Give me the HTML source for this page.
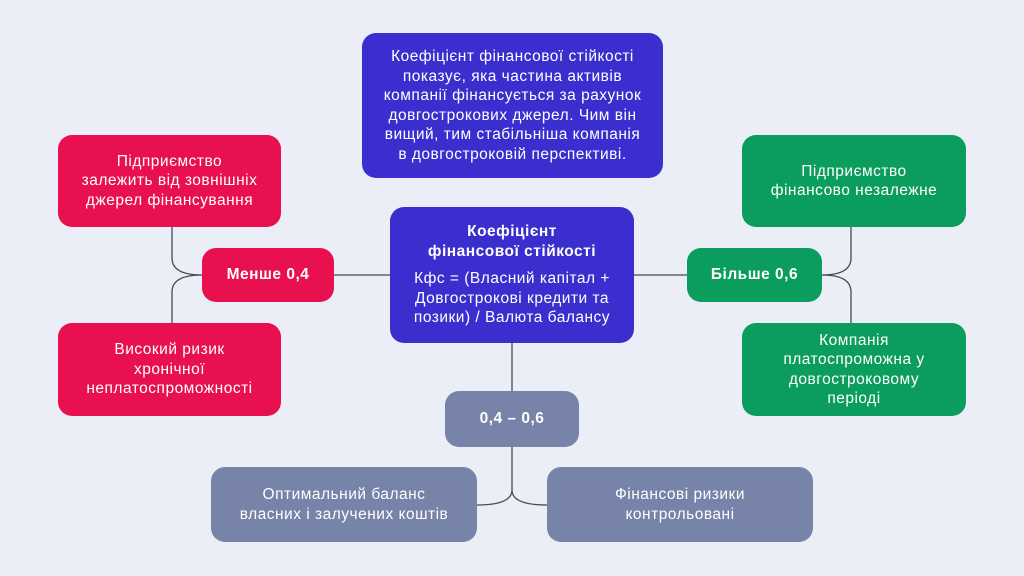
<!DOCTYPE html>
<html><head><meta charset="utf-8"><style>
body{margin:0;width:1024px;height:576px;background:#eceef7;position:relative;overflow:hidden;font-family:"Liberation Sans",sans-serif}
.b{position:absolute;border-radius:14px;color:#fff;display:flex;align-items:center;justify-content:center;text-align:center;font-size:15.5px;line-height:19.5px;letter-spacing:0.5px;box-sizing:border-box;padding:0 4px;white-space:nowrap}
.r{background:#e8104f}.g{background:#0a9d5d}.s{background:#7783a8}.p{background:#3a2fce}
.bold{font-weight:bold}
</style></head><body>
<svg width="1024" height="576" style="position:absolute;left:0;top:0" fill="none" stroke="#444a55" stroke-width="1.3">
<path d="M334 275H390"/><path d="M634 275H687"/><path d="M512 343V391"/>
<path d="M172 227V258Q172 275 202 275M172 323V292Q172 275 202 275"/>
<path d="M851 227V258Q851 275 822 275M851 323V292Q851 275 822 275"/>
<path d="M512 447V490Q512 505 477 505M512 490Q512 505 547 505"/>
</svg>
<div class="b p" style="left:362px;top:33px;width:301px;height:145px">Коефіцієнт фінансової стійкості<br>показує, яка частина активів<br>компанії фінансується за рахунок<br>довгострокових джерел. Чим він<br>вищий, тим стабільніша компанія<br>в довгостроковій перспективі.</div>
<div class="b p" style="left:390px;top:207px;width:244px;height:136px;flex-direction:column"><div class="bold" style="margin-bottom:8px">Коефіцієнт<br>фінансової стійкості</div><div>Кфс = (Власний капітал +<br>Довгострокові кредити та<br>позики) / Валюта балансу</div></div>
<div class="b r" style="left:58px;top:135px;width:223px;height:92px">Підприємство<br>залежить від зовнішніх<br>джерел фінансування</div>
<div class="b r bold" style="left:202px;top:248px;width:132px;height:54px">Менше 0,4</div>
<div class="b r" style="left:58px;top:323px;width:223px;height:93px">Високий ризик<br>хронічної<br>неплатоспроможності</div>
<div class="b g" style="left:742px;top:135px;width:224px;height:92px">Підприємство<br>фінансово незалежне</div>
<div class="b g bold" style="left:687px;top:248px;width:135px;height:54px">Більше 0,6</div>
<div class="b g" style="left:742px;top:323px;width:224px;height:93px">Компанія<br>платоспроможна у<br>довгостроковому<br>періоді</div>
<div class="b s bold" style="left:445px;top:391px;width:134px;height:56px">0,4 – 0,6</div>
<div class="b s" style="left:211px;top:467px;width:266px;height:75px">Оптимальний баланс<br>власних і залучених коштів</div>
<div class="b s" style="left:547px;top:467px;width:266px;height:75px">Фінансові ризики<br>контрольовані</div>
</body></html>
